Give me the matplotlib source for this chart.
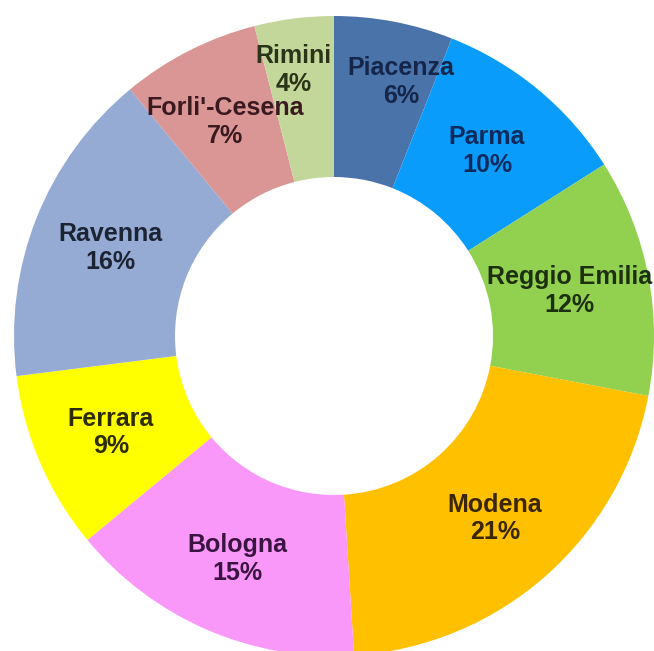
import numpy as np
import matplotlib
matplotlib.use('Agg')
import matplotlib.pyplot as plt

# provinces of Emilia-Romagna, share in percent (clockwise from 12 o'clock)
provinces = ['Piacenza', 'Parma', 'Reggio Emilia', 'Modena', 'Bologna',
             'Ferrara', 'Ravenna', "Forli'-Cesena", 'Rimini']
shares = [6, 10, 12, 21, 15, 9, 16, 7, 4]

colors = ['#4a73aa', '#0a9cfa', '#92d050', '#ffc000', '#fa98fa',
          '#ffff00', '#95abd4', '#d99694', '#c4d79b']
text_colors = ['#15264a', '#0c2b5c', '#1c3010', '#3a2600', '#3a1540',
               '#2c2c00', '#1c2434', '#3a1a20', '#2a3418']

W, H = 654, 651
cx, cy = 334, H - 336
R, r = 320, 159

fig = plt.figure(figsize=(W / 100, H / 100), dpi=100)
ax = fig.add_axes([0, 0, 1, 1])

wedges, _ = ax.pie(shares, colors=colors, startangle=90, counterclock=False,
                   radius=R, center=(cx, cy),
                   wedgeprops=dict(width=R - r, linewidth=0))

# labels sit mid-ring; the two narrow top slices get pushed outward
label_r = [0.82, 0.75, 0.75, 0.76, 0.76, 0.76, 0.75, 0.75, 0.84]
label_shift = [4.0, 0, 0, 0, 0, 0, 0, 0, -1.5]
for w, name, pct, lr, sh, tc in zip(wedges, provinces, shares, label_r,
                                     label_shift, text_colors):
    ang = np.deg2rad((w.theta1 + w.theta2) / 2 - sh)
    x = cx + lr * R * np.cos(ang)
    y = cy + lr * R * np.sin(ang)
    ax.text(x, y, f'{name}\n{pct}%', ha='center', va='center',
            fontsize=18, fontweight='bold', family='Liberation Sans',
            color=tc, linespacing=1.2)

ax.set_xlim(0, W)
ax.set_ylim(0, H)
ax.set_aspect('equal')
ax.axis('off')

fig.savefig('out.png', dpi=100)
